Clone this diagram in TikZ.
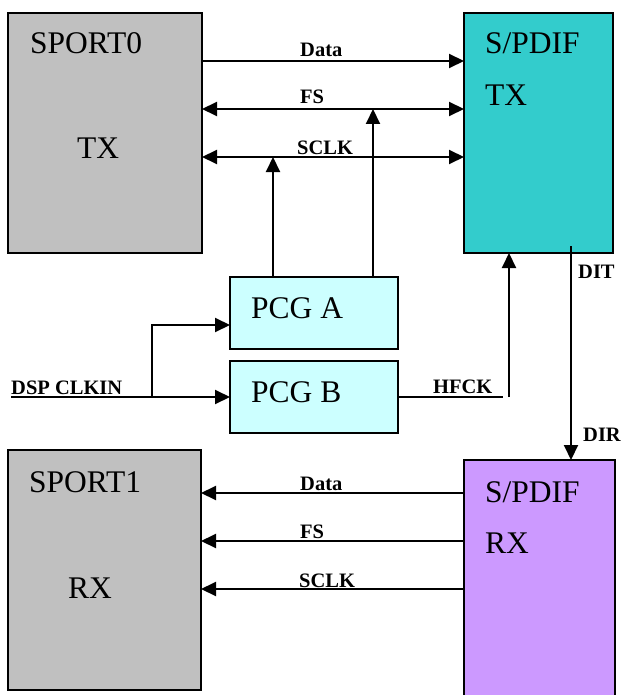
\documentclass[tikz,border=0pt]{standalone}
\usepackage{fontspec}
\setmainfont{Liberation Serif}
\usetikzlibrary{arrows.meta}
\definecolor{boxgray}{HTML}{C0C0C0}
\definecolor{txcyan}{HTML}{33CCCC}
\definecolor{pcgcyan}{HTML}{CCFFFF}
\definecolor{rxpurple}{HTML}{CC99FF}
\begin{document}
\begin{tikzpicture}[x=1pt,y=-1pt,
  blk/.style={draw=black, line width=2pt, inner sep=0pt, outer sep=0pt},
  big/.style={font=\fontsize{31.5}{36}\selectfont, anchor=base west, inner sep=0pt},
  sig/.style={font=\fontsize{20.5}{24}\selectfont\bfseries, anchor=base west, inner sep=0pt},
  wire/.style={line width=2pt},
  tip/.style={wire, -{Triangle[length=15pt,width=14pt]}},
  dtip/.style={wire, {Triangle[length=15pt,width=14pt]}-{Triangle[length=15pt,width=14pt]}}]
\useasboundingbox (0,0) rectangle (621,695);
\begin{scope}
\clip (0,0) rectangle (621,695);
% blocks
\node[blk, fill=boxgray, minimum width=194pt, minimum height=240pt] (sport0) at (105,133) {};
\node[blk, fill=txcyan, minimum width=149pt, minimum height=240pt] (txs) at (538.5,133) {};
\node[blk, fill=pcgcyan, minimum width=168pt, minimum height=72pt] (pcga) at (314,313) {};
\node[blk, fill=pcgcyan, minimum width=168pt, minimum height=72pt] (pcgb) at (314,397) {};
\node[blk, fill=boxgray, minimum width=193pt, minimum height=240pt] (sport1) at (104.5,570) {};
\node[blk, fill=rxpurple, minimum width=151pt, minimum height=280pt] (rxs) at (539.5,600) {};
\end{scope}
% block texts
\node[big] (t0a) at (30,54) {SPORT0};
\node[big] (t0b) at (77,159) {TX};
\node[big] (t1a) at (485,54) {S/PDIF};
\node[big] (t1b) at (485,106) {TX};
\node[big] (tpa) at (251,318) {PCG A};
\node[big] (tpb) at (251,402) {PCG B};
\node[big] (t2a) at (29,492) {SPORT1};
\node[big] (t2b) at (68,598) {RX};
\node[big] (t3a) at (485,502) {S/PDIF};
\node[big] (t3b) at (485,553) {RX};
% signal labels
\node[sig] (lD0) at (300,57) {Data};
\node[sig] (lF0) at (300,104) {FS};
\node[sig] (lS0) at (297,154) {SCLK};
\node[sig] (lclk) at (11,394) {DSP CLKIN};
\node[sig] (lhf) at (433,393) {HFCK};
\node[sig] (ldit) at (578,278) {DIT};
\node[sig] (ldir) at (583,441) {DIR};
\node[sig] (lD1) at (300,490) {Data};
\node[sig] (lF1) at (300,538) {FS};
\node[sig] (lS1) at (299,587) {SCLK};
% helper coordinates
\coordinate (yD0) at (0,61);
\coordinate (yF0) at (0,109);
\coordinate (yS0) at (0,157);
\coordinate (xa) at (273,0);
\coordinate (xb) at (373,0);
\coordinate (clk) at (11,397);
\coordinate (br) at (152,397);
\coordinate (ya) at (0,325);
\coordinate (hfend) at (503,397);
\coordinate (hfup) at (509,397);
\coordinate (dit) at (571,246);
\coordinate (yD1) at (0,493);
\coordinate (yF1) at (0,541);
\coordinate (yS1) at (0,589);
% connectors top
\draw[tip] (sport0.east |- yD0) -- (txs.west |- yD0);
\draw[dtip] (sport0.east |- yF0) -- (txs.west |- yF0);
\draw[dtip] (sport0.east |- yS0) -- (txs.west |- yS0);
\draw[tip] (pcga.north -| xa) -- (xa |- yS0);
\draw[tip] (pcga.north -| xb) -- (xb |- yF0);
% clock input
\draw[tip] (clk) -- (pcgb.west);
\draw[tip] (br) |- (pcga.west |- ya);
% HFCK
\draw[wire] (pcgb.east) -- (hfend);
\draw[tip] (hfup) -- (txs.south -| hfup);
% DIT / DIR
\draw[tip] (dit) -- (rxs.north -| dit);
% connectors bottom
\draw[tip] (rxs.west |- yD1) -- (sport1.east |- yD1);
\draw[tip] (rxs.west |- yF1) -- (sport1.east |- yF1);
\draw[tip] (rxs.west |- yS1) -- (sport1.east |- yS1);
\end{tikzpicture}
\end{document}
